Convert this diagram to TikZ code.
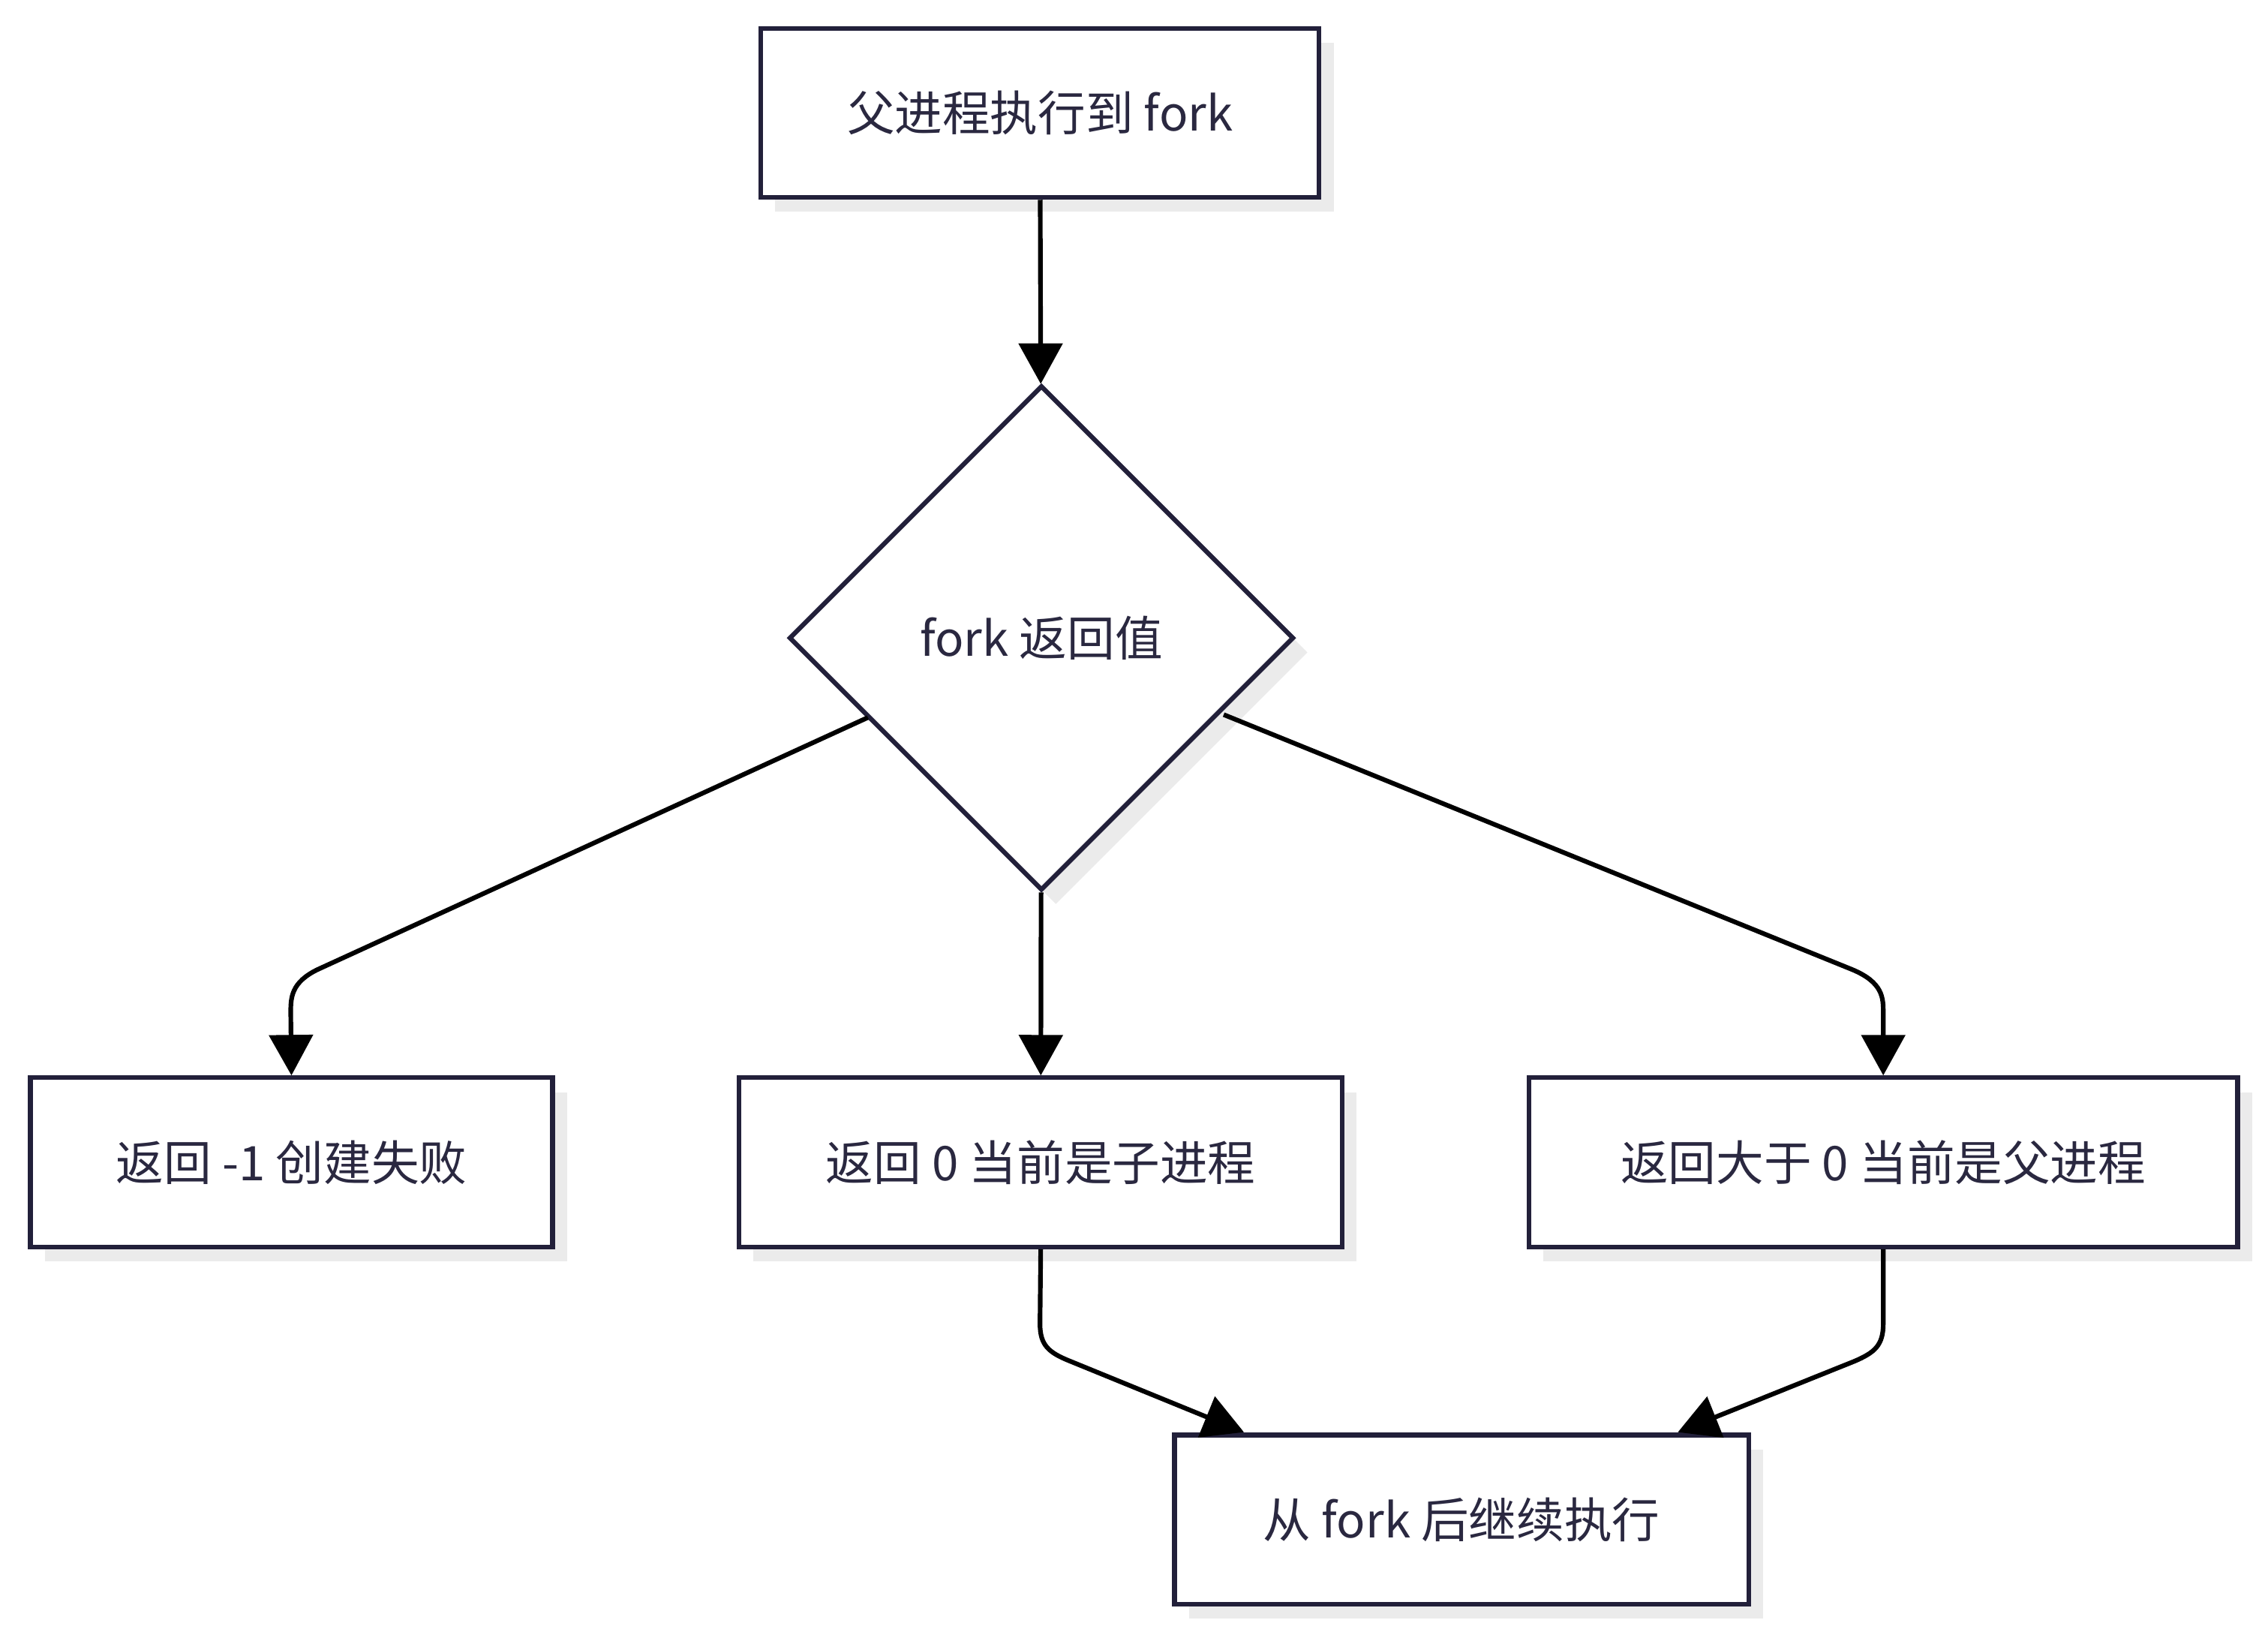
\documentclass[tikz,border=0pt]{standalone}
\usepackage{fontspec}
\setmainfont{Noto Sans CJK SC}
\usetikzlibrary{shapes.geometric,arrows.meta,shadows}
\definecolor{bd}{HTML}{22203A}
\definecolor{tx}{HTML}{2A2840}
\begin{document}
\begin{tikzpicture}[x=0.5pt,y=-0.5pt,
  sh/.style={drop shadow={shadow xshift=5pt,shadow yshift=-5pt,fill=black!8,opacity=1}},
  box/.style={draw=bd,line width=1.6pt,fill=white,sh,inner sep=0pt,text=tx,font=\fontsize{16.5}{18}\selectfont},
  dia/.style={box,diamond,minimum width=174.5pt,minimum height=174.5pt},
  ar/.style={line width=1.6pt,black,-{Triangle[length=14pt,width=15pt]}},
  ln/.style={line width=1.6pt,black}]
\useasboundingbox (0,0) rectangle (1568,1130);
\node[box,minimum width=193pt,minimum height=58.5pt] (top) at (719,78) {父进程执行到 fork};
\node[dia] (d) at (720,441) {fork 返回值};
\node[box,minimum width=180.5pt,minimum height=58.5pt] (l) at (201.5,803.5) {返回 -1 创建失败};
\node[box,minimum width=208.5pt,minimum height=58.5pt] (m) at (719.5,803.5) {返回 0 当前是子进程};
\node[box,minimum width=245pt,minimum height=58.5pt] (r) at (1302,803.5) {返回大于 0 当前是父进程};
\node[box,minimum width=198.5pt,minimum height=58.5pt] (b) at (1010.5,1050.5) {从 fork 后继续执行};
\draw[ar] (top) -- (d);
\draw[ar] (d) -- (m);
\coordinate (dl) at (600,496);
\coordinate (dr) at (846,494);
\draw[ar] (dl) -- (220,670) .. controls (201,679) and (201,690) .. (201,700) -- (l.north);
\draw[ar] (dr) -- (1280,670) .. controls (1302,679) and (1302,690) .. (1302,700) -- (r.north);
\coordinate (bl) at (860,990);
\coordinate (br) at (1160,990);
\draw[ar] (m.south) -- (719,915) .. controls (719,930) and (725,935) .. (740,941) -- (bl);
\draw[ar] (r.south) -- (1302,915) .. controls (1302,930) and (1296,935) .. (1282,941) -- (br);
\end{tikzpicture}
\end{document}
